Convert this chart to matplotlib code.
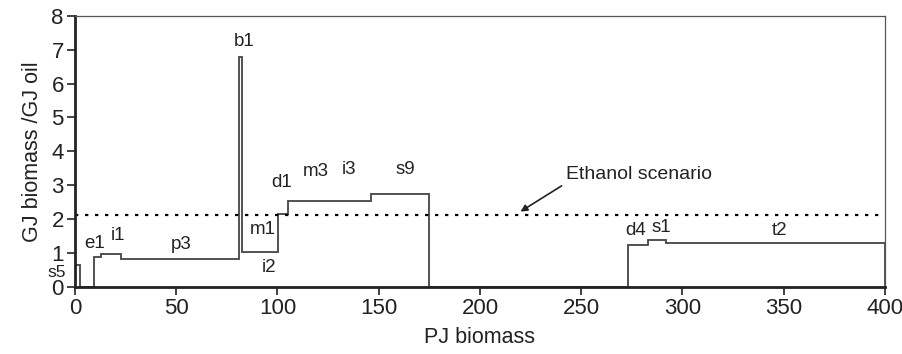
import matplotlib
matplotlib.use('Agg')
import matplotlib.pyplot as plt

# Step curve: edges (PJ biomass) and heights (GJ biomass / GJ oil)
edges = [0, 2.3, 9.4, 13, 22.7, 81, 82.5, 100.3, 105.3, 146, 174.8,
         273.2, 282.8, 291.7, 376, 400]
heights = [0.65, 0, 0.88, 0.98, 0.81, 6.78, 1.04, 2.14, 2.52, 2.74, 0,
           1.22, 1.38, 1.30, 1.29]

# segment labels
label_names = ['s5', 'e1', 'i1', 'p3', 'b1', 'm1', 'i2', 'd1', 'm3', 'i3',
               's9', 'd4', 's1', 't2']
label_x = [-9.0, 9.5, 21.4, 52.7, 83.6, 93, 96, 102, 119, 135.3,
           163, 277, 289.4, 347.8]
label_y = [0.42, 1.27, 1.52, 1.24, 7.24, 1.70, 0.57, 3.08, 3.40, 3.47,
           3.47, 1.65, 1.75, 1.65]

ethanol_level = 2.13

plt.rcParams['font.family'] = ['Liberation Sans', 'DejaVu Sans']

fig = plt.figure(figsize=(9.03, 3.54), dpi=100)
ax = fig.add_axes([0.083, 0.19, 0.897, 0.765])

ax.stairs(heights, edges, baseline=0, color='#444444', lw=1.3)
ax.axhline(ethanol_level, color='black', lw=1.6, linestyle=(0, (1.5, 3)))

for name, x, y in zip(label_names, label_x, label_y):
    size = 12.5 if name == 's5' else 13.5
    ax.text(x, y, name, ha='center', va='center', fontsize=size,
            color='#222222', clip_on=False)

# annotation: text and arrow drawn separately
ax.text(278.5, 3.33, 'Ethanol scenario', fontsize=14, color='#222222',
        ha='center', va='center')
ax.annotate('', xy=(220, 2.22), xytext=(240.3, 2.98),
            arrowprops=dict(arrowstyle='-|>', color='#222222', lw=1.2,
                            shrinkA=0, shrinkB=0, mutation_scale=10))

ax.set_xlim(0, 400)
ax.set_ylim(0, 8)
ax.set_xticks(range(0, 401, 50))
ax.set_yticks(range(0, 9))
ax.set_xlabel('PJ biomass', fontsize=15.5, color='#222222', labelpad=6)
ax.set_ylabel('GJ biomass /GJ oil', fontsize=15.5, color='#222222', labelpad=6)
ax.tick_params(direction='out', length=6, width=1.2, labelsize=16,
               colors='#222222', top=False, right=False, pad=2)

for side in ['left', 'bottom']:
    ax.spines[side].set_linewidth(2)
    ax.spines[side].set_color('#222222')
for side in ['top', 'right']:
    ax.spines[side].set_linewidth(0.9)
    ax.spines[side].set_color('#555555')

fig.savefig('out.png', dpi=100)
